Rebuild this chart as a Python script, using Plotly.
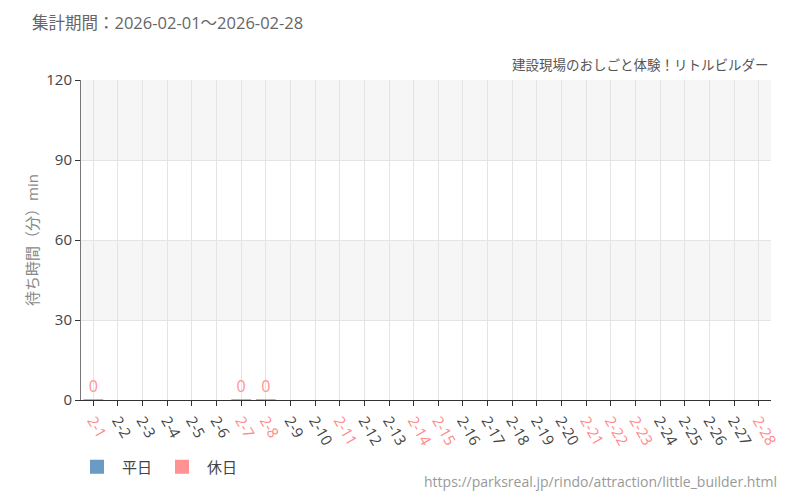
import plotly.graph_objs as go

days = ["2-%d" % d for d in range(1, 29)]
holidays = ["2-1", "2-7", "2-8", "2-11", "2-14", "2-15", "2-21", "2-22", "2-23", "2-28"]

# waiting time in minutes (None = no data)
weekday_wait = [None] * 28
holiday_wait = [0, None, None, None, None, None, 0, 0] + [None] * 20

period_text = "集計期間：2026-02-01～2026-02-28"
attraction_name = "建設現場のおしごと体験！リトルビルダー"
y_title = "待ち時間（分）min"
source_url = "https://parksreal.jp/rindo/attraction/little_builder.html"

FONT = "Open Sans, Noto Sans CJK JP"
BLUE = "#6a9bc4"
PINK = "#ff9393"

fig = go.Figure()

fig.add_trace(go.Bar(
    x=days, y=weekday_wait, name="平日",
    marker=dict(color=BLUE, line=dict(color=BLUE, width=2)),
    width=0.8,
    text=[("%d" % v) if v is not None else "" for v in weekday_wait],
    textposition="outside", cliponaxis=False,
    textfont=dict(color=BLUE, size=16, family=FONT),
))
fig.add_trace(go.Bar(
    x=days, y=holiday_wait, name="休日",
    marker=dict(color=PINK, line=dict(color=PINK, width=2)),
    width=0.8,
    text=[("%d" % v) if v is not None else "" for v in holiday_wait],
    textposition="outside", cliponaxis=False,
    textfont=dict(color=PINK, size=16, family=FONT),
))

# colored tick labels for holidays
tick_text = []
for d in days:
    if d in holidays:
        tick_text.append("<span style='color:#ff8a8a'>%s</span>" % d)
    else:
        tick_text.append(d)

# alternating background bands
for y0, y1 in [(90, 120), (30, 60)]:
    fig.add_shape(type="rect", xref="paper", yref="y", x0=0, x1=1, y0=y0, y1=y1,
                  fillcolor="#f6f6f6", line=dict(width=0), layer="below")

fig.update_xaxes(
    type="category", tickmode="array", tickvals=days, ticktext=tick_text,
    tickangle=60, tickfont=dict(size=15, color="#444", family=FONT),
    showgrid=True, gridcolor="#e4e4e4", gridwidth=1,
    showline=True, linecolor="#333", linewidth=1,
    ticks="outside", ticklen=5, tickcolor="#333",
    range=[-0.5, 27.5], automargin=False,
)
fig.update_yaxes(
    range=[0, 120], dtick=30, tickfont=dict(size=15, color="#444", family=FONT),
    showgrid=True, gridcolor="#e4e4e4", zeroline=False,
    showline=True, linecolor="#777", linewidth=1,
    ticks="outside", ticklen=5, tickcolor="#333", automargin=False,
)

# the page adds an 8px body margin, so everything is shifted up/left by 8px
fig.update_layout(
    width=800, height=500,
    margin=dict(l=73, r=37, t=72, b=108),
    plot_bgcolor="white", paper_bgcolor="white",
    barmode="overlay",
    font=dict(family=FONT),
    showlegend=True,
    legend=dict(orientation="h", x=0.08, y=0.082, xref="container", yref="container",
                xanchor="left", yanchor="middle", itemwidth=40,
                font=dict(size=15, color="#444", family=FONT)),
    annotations=[
        dict(text=period_text, xref="paper", yref="paper", x=-0.074, y=1.181,
             xanchor="left", yanchor="middle", showarrow=False,
             font=dict(size=16.5, color="#666", family=FONT)),
        dict(text=attraction_name, xref="paper", yref="paper", x=1, y=1.013,
             xanchor="right", yanchor="bottom", showarrow=False,
             font=dict(size=13.5, color="#555", family=FONT)),
        dict(text=y_title, xref="paper", yref="paper", x=-0.071, y=0.5,
             xanchor="center", yanchor="middle", textangle=-90, showarrow=False,
             font=dict(size=15, color="#888", family=FONT)),
        dict(text=source_url, xref="paper", yref="paper", x=1.012, y=-0.256,
             xanchor="right", yanchor="middle", showarrow=False,
             font=dict(size=14, color="#999", family=FONT)),
    ],
)

fig.write_html("out.html")
